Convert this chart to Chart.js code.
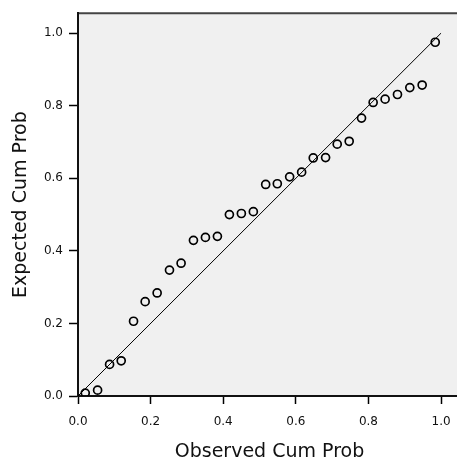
<!DOCTYPE html>
<html>
<head>
<meta charset="utf-8">
<script src="https://cdn.jsdelivr.net/npm/chart.js@4/dist/chart.umd.min.js"></script>
<style>
    html, body { margin: 0; padding: 0; background: #fff; }
    #wrap { width: 457px; height: 459px; overflow: hidden; position: relative; }
    #chart { position: absolute; left: 0; top: 0; }
</style>
</head>
<body>
<div id="wrap"><canvas id="chart" width="470" height="463"></canvas></div>
<script>
// observed vs expected cumulative probabilities
const observed = [0.020, 0.054, 0.087, 0.119, 0.153, 0.185, 0.218, 0.252, 0.284, 0.318,
                  0.351, 0.384, 0.417, 0.450, 0.483, 0.517, 0.549, 0.583, 0.616, 0.648,
                  0.682, 0.714, 0.747, 0.781, 0.813, 0.846, 0.880, 0.914, 0.948, 0.984];
const expected = [0.008, 0.016, 0.087, 0.097, 0.206, 0.260, 0.284, 0.347, 0.366, 0.429,
                  0.437, 0.440, 0.500, 0.503, 0.508, 0.583, 0.585, 0.604, 0.617, 0.656,
                  0.657, 0.694, 0.702, 0.766, 0.809, 0.818, 0.831, 0.850, 0.857, 0.975];
const refLine = [[0, 0], [1, 1]];
const tickValues = [0, 0.2, 0.4, 0.6, 0.8, 1.0];

const xTitle = 'Observed Cum Prob';
const yTitle = 'Expected Cum Prob';

const points = observed.map((x, i) => ({ x: x, y: expected[i] }));
const linePts = refLine.map(p => ({ x: p[0], y: p[1] }));

const plotFrame = {
    id: 'plotFrame',
    beforeDraw(chart) {
        const a = chart.chartArea;
        const ctx = chart.ctx;
        ctx.save();
        ctx.fillStyle = '#f0f0f0';
        ctx.fillRect(a.left, a.top, a.right - a.left, a.bottom - a.top);
        ctx.strokeStyle = '#444';
        ctx.lineWidth = 2;
        ctx.beginPath();
        ctx.moveTo(a.left, a.top);
        ctx.lineTo(a.right + 5, a.top);
        ctx.stroke();
        ctx.restore();
    }
};

const tickFont = { family: 'DejaVu Sans', size: 12 };
const titleFont = { family: 'DejaVu Sans', size: 19 };

function axis(title, isX) {
    return {
        type: 'linear',
        min: 0,
        max: 1.055,
        afterBuildTicks: s => { s.ticks = tickValues.map(v => ({ value: v })); },
        afterFit: s => { if (isX) s.height = 67; else s.width = 78; },
        grid: {
            drawOnChartArea: false,
            drawTicks: true,
            tickLength: isX ? 8 : 9,
            color: '#000',
            tickWidth: 1.5
        },
        border: { display: true, color: '#111', width: 2 },
        ticks: {
            color: '#111',
            font: tickFont,
            padding: isX ? 11 : 6,
            maxRotation: 0,
            callback: v => v.toFixed(1)
        },
        title: {
            display: true,
            text: title,
            color: '#111',
            font: titleFont,
            padding: isX ? { top: 0, bottom: 0 } : { top: 10, bottom: 0 }
        }
    };
}

new Chart(document.getElementById('chart'), {
    type: 'scatter',
    data: {
        datasets: [
            {
                type: 'line',
                data: linePts,
                borderColor: '#000',
                borderWidth: 1,
                pointRadius: 0,
                fill: false
            },
            {
                data: points,
                pointRadius: 4,
                pointBorderWidth: 1.7,
                pointBorderColor: '#000',
                pointBackgroundColor: 'rgba(0,0,0,0)'
            }
        ]
    },
    options: {
        responsive: false,
        animation: false,
        layout: { padding: { top: 10, right: 9, left: 0, bottom: 0 } },
        plugins: {
            legend: { display: false },
            tooltip: { enabled: false }
        },
        scales: {
            x: axis(xTitle, true),
            y: axis(yTitle, false)
        }
    },
    plugins: [plotFrame]
});
</script>
</body>
</html>
